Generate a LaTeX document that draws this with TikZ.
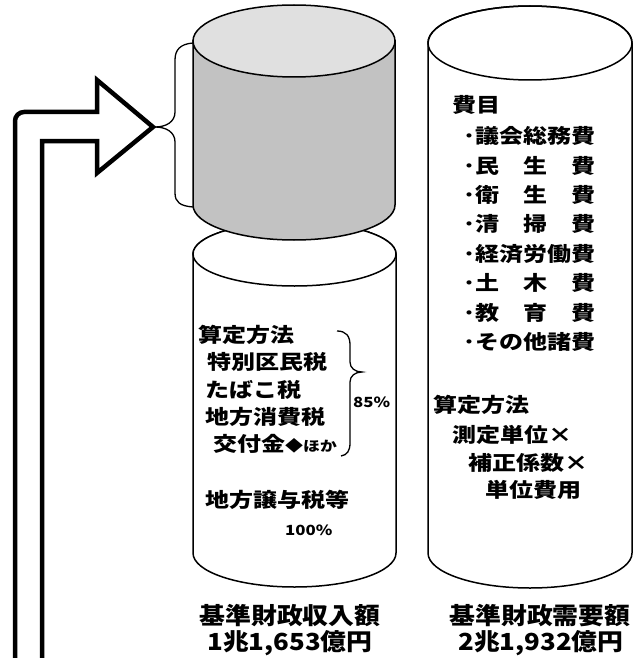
\documentclass[tikz,border=0pt]{standalone}
\usepackage{fontspec}
\newfontfamily\jp{Noto Sans CJK JP}[FakeStretch=1.2]
\newfontfamily\jpl{Noto Sans CJK JP}[FakeStretch=1.1]
\tikzset{
  cyl/.style={draw=black, line width=1.5pt},
  txt/.style={inner sep=0pt, anchor=west, font=\jp\bfseries\fontsize{20}{24}\selectfont, text height=17.6pt, text depth=2.4pt},
  pct/.style={inner sep=0pt, anchor=west, font=\jp\bfseries\fontsize{14}{17}\selectfont, text height=10.5pt, text depth=0pt},
  lab/.style={inner sep=0pt, anchor=center, font=\jpl\bfseries\fontsize{23.5}{26}\selectfont, text height=20.7pt, text depth=2.8pt},
  brk/.style={draw=black, line width=1.3pt},
  bigarrow/.style={draw=black, line width=4.5pt, line join=miter, miter limit=20}
}
\begin{document}
\begin{tikzpicture}[x=1pt,y=-1pt]
\useasboundingbox (0,0) rectangle (640,658);
\fill[white] (0,0) rectangle (640,658);

% lower white cylinder
\path[cyl, fill=white] (193,254) -- (193,553) arc[start angle=180,end angle=360,x radius=101.5pt,y radius=34pt] -- (396,254) arc[start angle=0,end angle=180,x radius=101.5pt,y radius=32pt] -- cycle;
\draw[cyl, fill=white] (294.5,254) ellipse[x radius=101.5pt, y radius=32pt];

% upper shaded cylinder
\path[cyl, fill=black!24] (193,41) -- (193,205) arc[start angle=180,end angle=360,x radius=101pt,y radius=35pt] -- (395,41) -- cycle;
\draw[cyl, fill=black!12] (294,41) ellipse[x radius=101pt, y radius=36pt];

% right cylinder
\path[cyl, fill=white] (428,43) -- (428,553) arc[start angle=180,end angle=360,x radius=102pt,y radius=35pt] -- (632,43) arc[start angle=0,end angle=180,x radius=102pt,y radius=37pt] -- cycle;
\draw[cyl] (530,43) ellipse[x radius=102pt, y radius=37pt];

% bracket left of shaded cylinder
\draw[brk] (193,43) .. controls (180,44) and (175,50) .. (175,60) -- (175,112) .. controls (175,122) and (166,127) .. (155,127) .. controls (166,127) and (175,132) .. (175,142) -- (175,193) .. controls (175,202) and (180,206) .. (193,207);

% big arrow
\coordinate (aStartOut) at (15,662);
\coordinate (aStartIn) at (42,662);
\coordinate (aTip) at (153,127);
\draw[bigarrow] (aStartOut) -- (15,121) arc[start angle=180,end angle=90,radius=9pt] -- (97,112) -- (97,80) -- (aTip) -- (97,173) -- (97,141) -- (42,141) -- (aStartIn);

% brace 85%
\draw[brk] (337,331) .. controls (346,331) and (350,336) .. (350,345) -- (350,362) .. controls (350,368) and (355,372) .. (362,372) .. controls (355,372) and (350,376) .. (350,382) -- (350,443) .. controls (350,451) and (347,455) .. (341,456);

% left texts
\node[txt] (l1) at (198,335) {算定方法};
\node[txt] (l2) at (207,362) {特別区民税};
\node[txt] (l3) at (205,390) {たばこ税};
\node[txt] (l4) at (205,417) {地方消費税};
\node[txt] (l5) at (213,444) {交付金{\fontsize{15}{15}\selectfont ◆}{\fontsize{14}{14}\selectfont ほか}};
\node[txt] (l6) at (205,500) {地方譲与税等};
\node[pct] (l7) at (285,530) {100\%};
\node[pct] (p85) at (353,402) {85\%};

% right texts
\node[txt] (r0) at (452,105) {費目};
\node[txt] (r1) at (463,136) {･議会総務費};
\node[txt] (r2) at (463,166) {･民　生　費};
\node[txt] (r3) at (463,195) {･衛　生　費};
\node[txt] (r4) at (463,224) {･清　掃　費};
\node[txt] (r5) at (463,254) {･経済労働費};
\node[txt] (r6) at (463,283) {･土　木　費};
\node[txt] (r7) at (463,313) {･教　育　費};
\node[txt] (r8) at (463,342) {･その他諸費};
\node[txt] (r9) at (433,405) {算定方法};
\node[txt] (r10) at (452,435) {測定単位×};
\node[txt] (r11) at (468,463) {補正係数×};
\node[txt] (r12) at (485,490) {単位費用};

% bottom labels
\node[lab] (b1) at (290,616) {基準財政収入額};
\node[lab] (b2) at (290,642) {1兆1,653億円};
\node[lab] (b3) at (540,616) {基準財政需要額};
\node[lab] (b4) at (541,642) {2兆1,932億円};
\end{tikzpicture}
\end{document}
